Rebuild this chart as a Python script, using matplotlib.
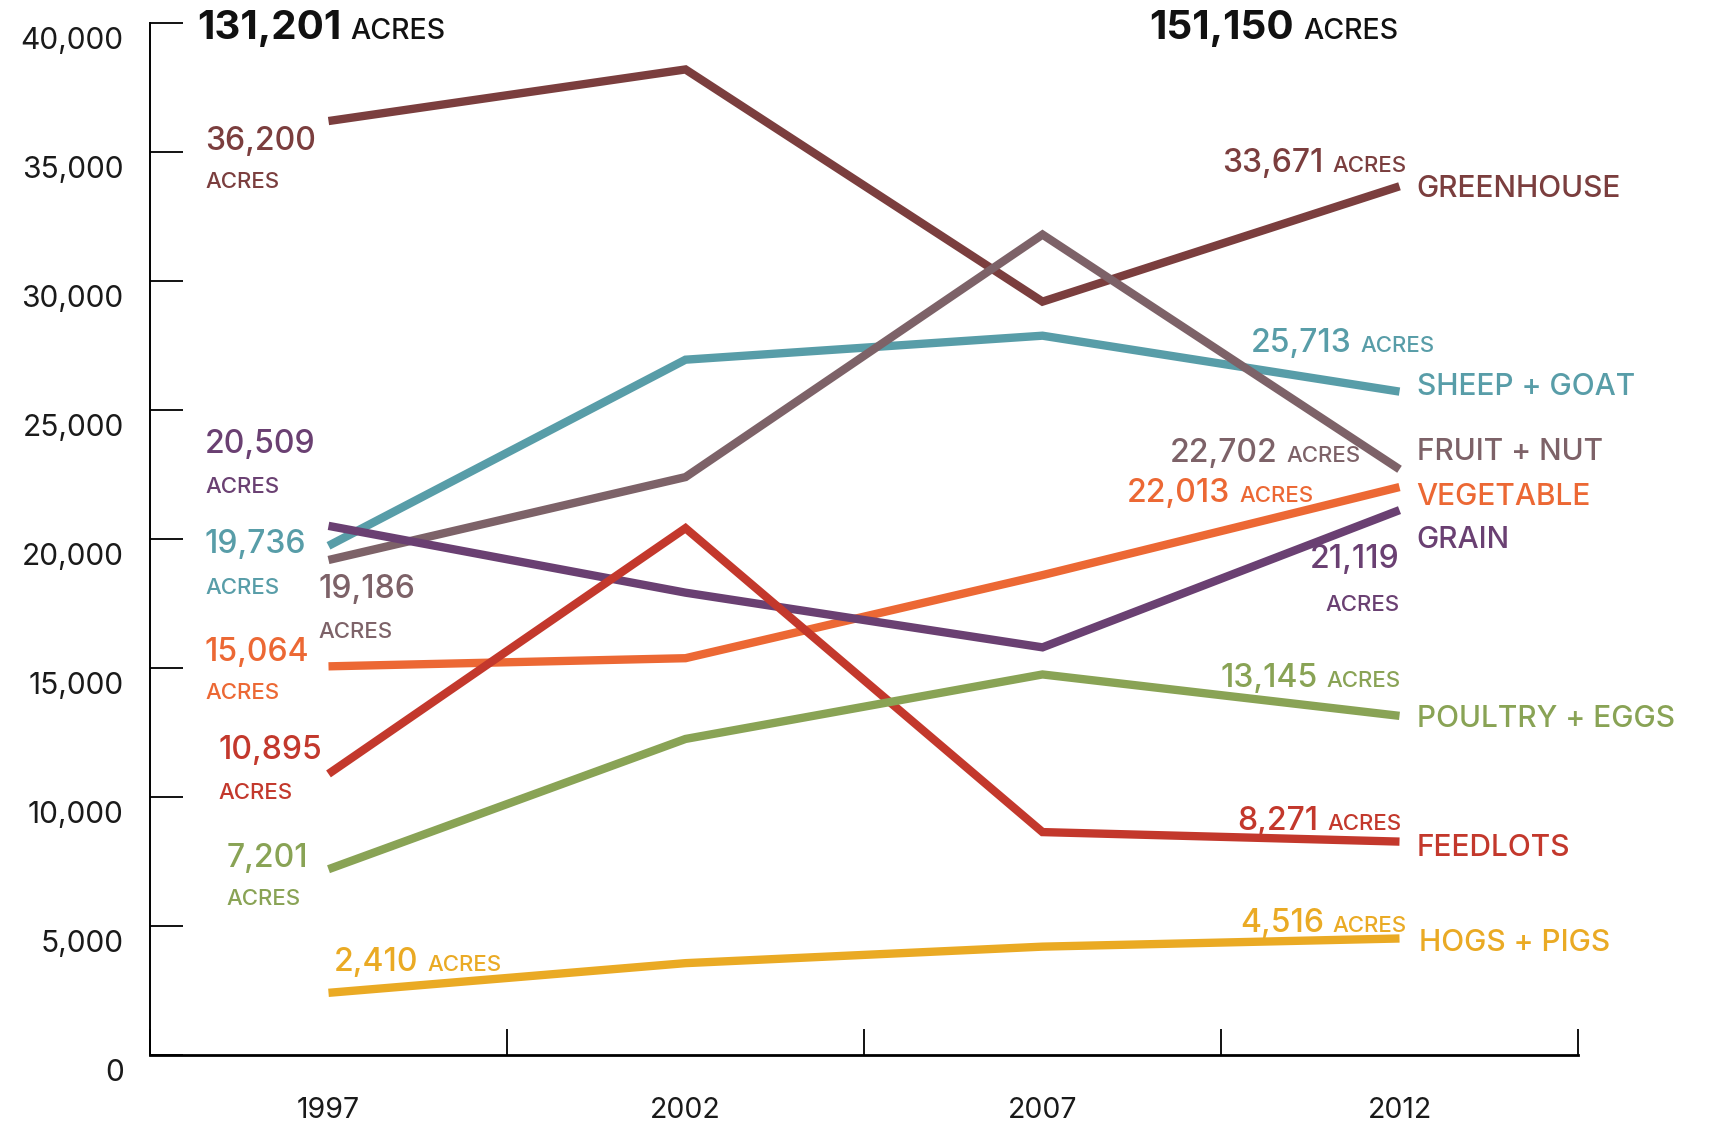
import matplotlib
matplotlib.use('Agg')
import matplotlib.pyplot as plt
from matplotlib.transforms import ScaledTranslation

plt.rcParams['font.family'] = ['Inter', 'DejaVu Sans']

# Dados (acres por tipo de operação)
years = ['1997', '2002', '2007', '2012']
greenhouse = [36200, 38200, 29200, 33671]
fruit_nut = [19186, 22400, 31800, 22702]
sheep_goat = [19736, 26950, 27880, 25713]
grain = [20509, 17920, 15800, 21119]
vegetable = [15064, 15380, 18600, 22013]
feedlots = [10895, 20420, 8640, 8271]
poultry = [7201, 12250, 14750, 13145]
hogs = [2410, 3560, 4200, 4516]

c_green = '#7b3e3e'
c_fruit = '#7d6268'
c_sheep = '#589da8'
c_grain = '#6a4072'
c_veg = '#ec6834'
c_feed = '#c3382c'
c_poul = '#89a355'
c_hogs = '#eaaa24'

series = [
    (greenhouse, c_green),
    (sheep_goat, c_sheep),
    (fruit_nut, c_fruit),
    (vegetable, c_veg),
    (grain, c_grain),
    (feedlots, c_feed),
    (poultry, c_poul),
    (hogs, c_hogs),
]

fig = plt.figure(figsize=(17.11, 11.25), dpi=100)
ax = fig.add_axes([150 / 1711, 1 - 1055 / 1125, 1428 / 1711, 1032 / 1125])

xs = [i + 0.5 for i in range(len(years))]
for vals, col in series:
    ax.plot(xs, vals, color=col, lw=6.0, solid_capstyle='butt', solid_joinstyle='miter')

ax.set_xlim(0, 4)
ax.set_ylim(0, 40000)

# eixos
for s in ['top', 'right']:
    ax.spines[s].set_visible(False)
ax.spines['left'].set_linewidth(1.4)
ax.spines['bottom'].set_linewidth(2.0)

ax.set_yticks(range(0, 40001, 5000))
ax.set_yticklabels([f'{v:,}' for v in range(0, 40001, 5000)])
ax.tick_params(axis='y', direction='in', length=24, width=1.3, pad=19,
               labelsize=21.5, labelcolor='#1a1a1a')
for lbl in ax.get_yticklabels():
    lbl.set_transform(lbl.get_transform() + ScaledTranslation(0, -0.15, fig.dpi_scale_trans))

ax.set_xticks([0, 1, 2, 3, 4])
ax.set_xticklabels([])
ax.set_xticks(xs, minor=True)
ax.set_xticklabels(years, minor=True)
ax.tick_params(axis='x', which='major', direction='in', length=19, width=1.3)
ax.tick_params(axis='x', which='minor', length=0, pad=30, labelsize=20.5, labelcolor='#1a1a1a')

fig.canvas.draw()
renderer = fig.canvas.get_renderer()

BIG = 23
SMALL = 16
GAP = 9


def num_acres(x, y, value, color, ha='left', big=BIG, small=SMALL, weight='medium', sw='medium'):
    txt = f'{value:,}'
    if ha == 'left':
        t = ax.text(x, y, txt, color=color, fontsize=big, fontweight=weight, ha='left', va='baseline')
        w = t.get_window_extent(renderer).width
        ax.annotate('ACRES', (x, y), xytext=(w + GAP, 0), textcoords='offset pixels',
                    color=color, fontsize=small, fontweight=sw, ha='left', va='baseline')
    else:
        t = ax.text(x, y, 'ACRES', color=color, fontsize=small, fontweight=sw, ha='right', va='baseline')
        w = t.get_window_extent(renderer).width
        ax.annotate(txt, (x, y), xytext=(-(w + GAP), 0), textcoords='offset pixels',
                    color=color, fontsize=big, fontweight=weight, ha='right', va='baseline')


def stacked(x, y1, y2, value, color, ha='left'):
    ax.text(x, y1, f'{value:,}', color=color, fontsize=BIG, fontweight='medium', ha=ha, va='baseline')
    ax.text(x, y2, 'ACRES', color=color, fontsize=SMALL, fontweight='medium', ha=ha, va='baseline')


def name(y, label, color, x=3.548):
    ax.text(x, y, label, color=color, fontsize=21.5, fontweight='medium', ha='left', va='baseline')


# totais no topo
tot_1997 = sum(v[0] for v, _ in series)
tot_2012 = sum(v[-1] for v, _ in series)
num_acres(0.132, 39380, tot_1997, '#111111', big=29, small=20.5, weight='bold', sw='medium')
num_acres(2.80, 39380, tot_2012, '#111111', big=29, small=20.5, weight='bold', sw='medium')

# rótulos 1997
stacked(0.154, 35080, 33600, greenhouse[0], c_green)
stacked(0.154, 23330, 21800, grain[0], c_grain)
stacked(0.154, 19460, 17870, sheep_goat[0], c_sheep)
stacked(0.473, 17710, 16160, fruit_nut[0], c_fruit)
stacked(0.154, 15270, 13800, vegetable[0], c_veg)
stacked(0.193, 11470, 9920, feedlots[0], c_feed)
stacked(0.215, 7290, 5810, poultry[0], c_poul)
num_acres(0.515, 3256, hogs[0], c_hogs)

# rótulos 2012
num_acres(3.519, 34236, greenhouse[-1], c_green, ha='right')
num_acres(3.599, 27260, sheep_goat[-1], c_sheep, ha='right')
num_acres(3.392, 23000, fruit_nut[-1], c_fruit, ha='right')
num_acres(3.259, 21450, vegetable[-1], c_veg, ha='right')
stacked(3.501, 18880, 17210, grain[-1], c_grain, ha='right')
num_acres(3.504, 14264, poultry[-1], c_poul, ha='right')
num_acres(3.507, 8721, feedlots[-1], c_feed, ha='right')
num_acres(3.521, 4779, hogs[-1], c_hogs, ha='right')

name(33268, 'GREENHOUSE', c_green)
name(25581, 'SHEEP + GOAT', c_sheep)
name(23062, 'FRUIT + NUT', c_fruit)
name(21318, 'VEGETABLE', c_veg)
name(19651, 'GRAIN', c_grain)
name(12713, 'POULTRY + EGGS', c_poul)
name(7713, 'FEEDLOTS', c_feed)
name(4012, 'HOGS + PIGS', c_hogs, x=3.556)

fig.savefig('out.png', dpi=100)
